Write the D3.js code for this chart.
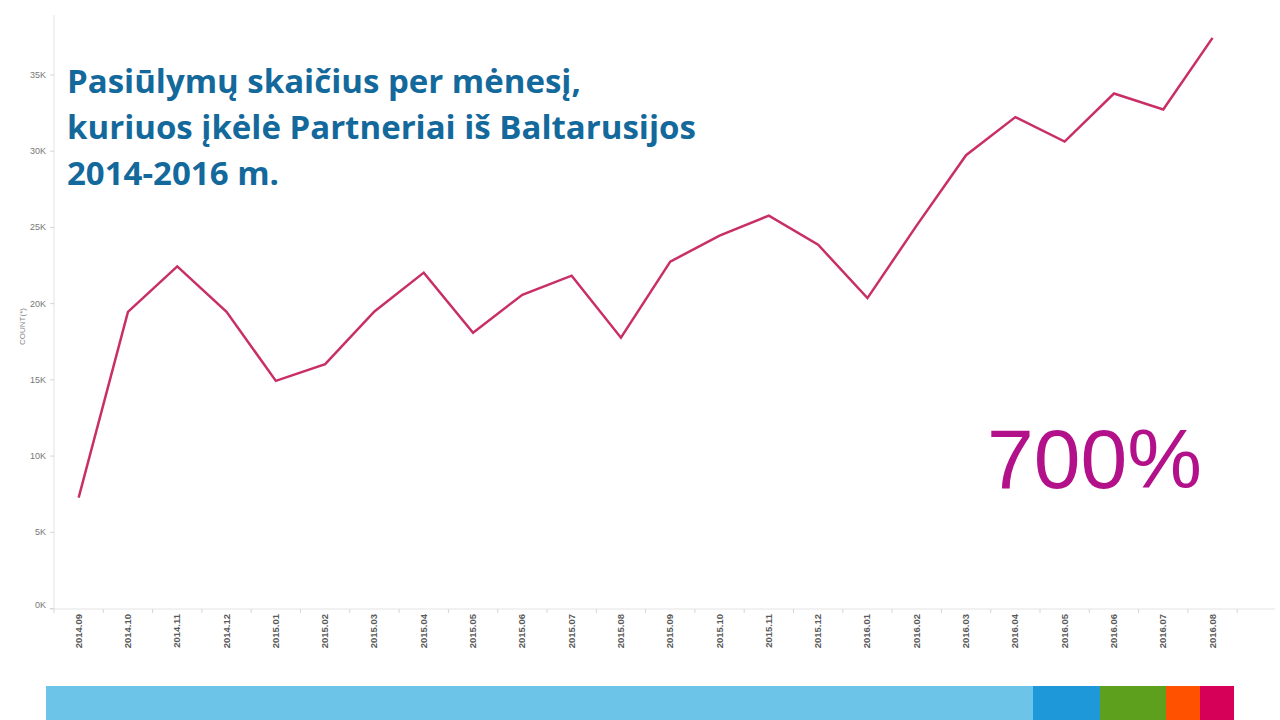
<!DOCTYPE html>
<html>
<head>
<meta charset="utf-8">
<script src="https://cdn.jsdelivr.net/npm/d3@7"></script>
<style>
  html, body { margin: 0; padding: 0; background: #fff; }
  svg { display: block; }
</style>
</head>
<body>
<svg id="chart" width="1280" height="720"></svg>
<script>
// ---- data ----
const months = ["2014.09","2014.10","2014.11","2014.12","2015.01","2015.02","2015.03","2015.04",
  "2015.05","2015.06","2015.07","2015.08","2015.09","2015.10","2015.11","2015.12",
  "2016.01","2016.02","2016.03","2016.04","2016.05","2016.06","2016.07","2016.08"];
const counts = [7240, 19430, 22410, 19430, 14900, 16000, 19450, 22000,
  18060, 20550, 21800, 17730, 22720, 24430, 25740, 23830,
  20330, 25100, 29700, 32200, 30600, 33750, 32700, 37400];
const yTicks = [0, 5000, 10000, 15000, 20000, 25000, 30000, 35000];
const titleLines = ["Pasiūlymų skaičius per mėnesį,", "kuriuos įkėlė Partneriai iš Baltarusijos", "2014-2016 m."];
const bigLabel = "700%";
const yAxisTitle = "COUNT(*)";

// ---- layout ----
const svg = d3.select("#chart");
const plotLeft = 54, bandW = 49.3, plotTop = 15, plotBottom = 608, axisRight = 1275;

const x = d3.scaleBand().domain(months).range([plotLeft, plotLeft + months.length * bandW]).paddingInner(0).paddingOuter(0);
const y = d3.scaleLinear().domain([0, 38900]).range([plotBottom, plotTop]);

// axis lines
svg.append("line").attr("x1", plotLeft).attr("x2", plotLeft).attr("y1", plotTop).attr("y2", plotBottom + 1)
  .attr("stroke", "#e3e3e3").attr("stroke-width", 1);
svg.append("line").attr("x1", plotLeft - 4).attr("x2", axisRight).attr("y1", plotBottom + 1).attr("y2", plotBottom + 1)
  .attr("stroke", "#e3e3e3").attr("stroke-width", 1);

// y axis
const yAxis = d3.axisLeft(y).tickValues(yTicks).tickSize(4).tickPadding(4)
  .tickFormat(d => (d / 1000) + "K");
const gy = svg.append("g").attr("transform", `translate(${plotLeft},0)`).call(yAxis);
gy.select(".domain").remove();
gy.selectAll(".tick line").attr("stroke", "#d6d6d6");
gy.selectAll(".tick text").attr("fill", "#777").attr("font-family", "Liberation Sans, Arial, sans-serif")
  .attr("font-size", 9);
gy.selectAll(".tick").filter(d => d === 0).select("text").attr("dy", "-0.1em");

svg.append("text").attr("transform", `translate(25,${(plotTop + plotBottom) / 2 + 15}) rotate(-90)`)
  .attr("text-anchor", "middle").attr("fill", "#888")
  .attr("font-family", "Liberation Sans, Arial, sans-serif").attr("font-size", 8)
  .text(yAxisTitle);

// x axis ticks at band boundaries
const bounds = months.map(m => x(m)).concat([x(months[months.length - 1]) + x.bandwidth()]);
svg.append("g").selectAll("line").data(bounds).join("line")
  .attr("x1", d => d).attr("x2", d => d).attr("y1", plotBottom + 1).attr("y2", plotBottom + 5)
  .attr("stroke", "#d6d6d6");

svg.append("g").selectAll("text").data(months).join("text")
  .attr("transform", d => `translate(${x(d) + x.bandwidth() / 2 + 3},${plotBottom + 6}) rotate(-90)`)
  .attr("text-anchor", "end").attr("fill", "#5a5a5a")
  .attr("font-family", "Liberation Sans, Arial, sans-serif").attr("font-size", 9.5).attr("font-weight", "bold")
  .text(d => d);

// line
const line = d3.line().x((d, i) => x(months[i]) + x.bandwidth() / 2).y(d => y(d));
svg.append("path").datum(counts).attr("d", line)
  .attr("fill", "none").attr("stroke", "#C92F67").attr("stroke-width", 2.5)
  .attr("stroke-linejoin", "miter");

// title
const title = svg.append("text")
  .attr("fill", "#13699B").attr("font-family", "Open Sans, sans-serif")
  .attr("font-weight", "bold").attr("font-size", 33);
titleLines.forEach((t, i) => {
  title.append("tspan").attr("x", 67).attr("y", 93 + i * 46).text(t);
});

// big label
svg.append("text").attr("x", 987).attr("y", 488)
  .attr("fill", "#B3118A").attr("font-family", "Liberation Sans, Arial, sans-serif")
  .attr("font-size", 84).text(bigLabel);

// decorative bottom bar
const barSegs = [
  { x0: 46, x1: 1033, c: "#6CC4E8" },
  { x0: 1033, x1: 1100, c: "#1F98DA" },
  { x0: 1100, x1: 1166, c: "#5CA01D" },
  { x0: 1166, x1: 1200, c: "#FF5100" },
  { x0: 1200, x1: 1234, c: "#D70058" }
];
svg.append("g").selectAll("rect").data(barSegs).join("rect")
  .attr("x", d => d.x0).attr("width", d => d.x1 - d.x0)
  .attr("y", 686).attr("height", 34).attr("fill", d => d.c);
</script>
</body>
</html>
